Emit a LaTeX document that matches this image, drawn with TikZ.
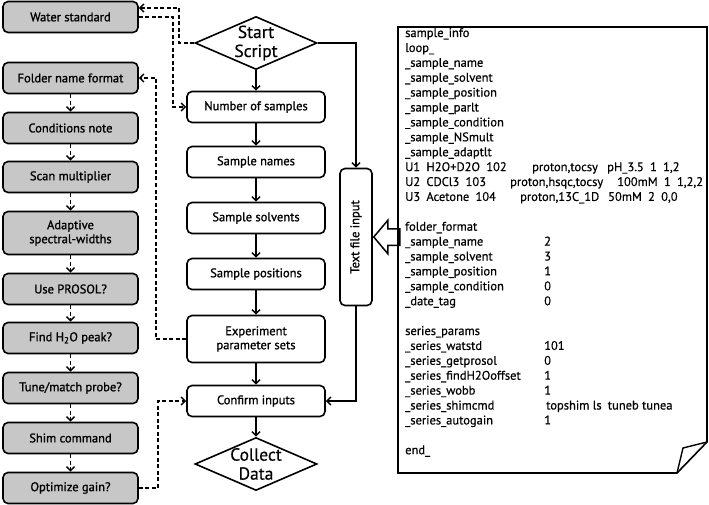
\documentclass[tikz,border=0pt]{standalone}
\usepackage{fontspec}
\setmainfont{PT Sans}
\newfontfamily\boxfont{PT Sans}[FakeBold=1.2]
\newfontfamily\listfont{PT Sans}[FakeBold=0.5]
\usetikzlibrary{shapes.geometric,shapes.arrows,arrows.meta}

\begin{document}
\begin{tikzpicture}[x=1pt,y=-1pt]
	\tikzset{box/.style = {draw, line width=1.6pt, rounded corners=5pt, minimum width=135pt, minimum height=31pt, inner sep=1pt, align=center, font=\boxfont\fontsize{12.5}{14}\selectfont}}
	\tikzset{optbox/.style = {box, fill=black!22}}
	\tikzset{stepbox/.style = {box, minimum width=138pt}}
	\tikzset{decision/.style = {diamond, draw, line width=1.6pt, minimum width=122pt, minimum height=53pt, inner sep=0pt}}
	\tikzset{bigtext/.style = {align=center, inner sep=0pt, font=\listfont\fontsize{17.5}{19}\selectfont}}
	\tikzset{edge/.style = {-{Straight Barb[length=4pt,width=8pt]}, line width=1.5pt}}
	\tikzset{optedge/.style = {edge, dash pattern=on 4pt off 2.5pt}}
	\tikzset{listline/.style = {anchor=base west, inner sep=0pt, font=\listfont\fontsize{12.5}{14}\selectfont}}
	\useasboundingbox (0,0) rectangle (709,505);
	% optional settings (left)
	\node[optbox] (water) at (70.5,17) {Water standard};
	\node[optbox] (folder) at (70.5,78) {Folder name format};
	\node[optbox] (cond) at (70.5,128) {Conditions note};
	\node[optbox] (scan) at (70.5,177) {Scan multiplier};
	\node[optbox, minimum height=43pt] (adapt) at (70.5,233) {Adaptive\\spectral-widths};
	\node[optbox] (prosol) at (70.5,289) {Use PROSOL?};
	\node[optbox] (findh2o) at (70.5,338) {Find H\textsubscript{2}O peak?};
	\node[optbox] (tune) at (70.5,388) {Tune/match probe?};
	\node[optbox] (shim) at (70.5,438) {Shim command};
	\node[optbox] (gain) at (70.5,488) {Optimize gain?};
	% main flow
	\node[decision] (start) at (256,43) {};
	\node[bigtext] (startlbl) at (start) {Start\\Script};
	\node[stepbox] (numsamp) at (256,107) {Number of samples};
	\node[stepbox] (names) at (256,162) {Sample names};
	\node[stepbox] (solvents) at (256,218) {Sample solvents};
	\node[stepbox] (positions) at (256,274) {Sample positions};
	\node[stepbox, minimum height=47pt] (expt) at (256,339) {Experiment\\parameter sets};
	\node[stepbox] (confirm) at (256,401) {Confirm inputs};
	\node[decision] (collect) at (256,464) {};
	\node[bigtext] (collectlbl) at (collect) {Collect\\Data};
	\node[box, minimum width=32pt, minimum height=137pt, inner sep=0pt] (textin) at (356,237) {\rotatebox{90}{Text file input}};
	\node[single arrow, draw, line width=1.5pt, shape border rotate=180, inner sep=7.5pt, minimum height=26pt, single arrow head extend=8.5pt, single arrow tip angle=100, anchor=tip] (fileptr) at (textin.east) {};
	% edges
	\draw[edge] (start) -- (numsamp);
	\draw[edge] (numsamp) -- (names);
	\draw[edge] (names) -- (solvents);
	\draw[edge] (solvents) -- (positions);
	\draw[edge] (positions) -- (expt);
	\draw[edge] (expt) -- (confirm);
	\draw[edge] (confirm) -- (collect);
	\draw[edge] (start.east) -| (textin);
	\draw[edge] (textin) |- (confirm);
	\foreach \a/\b in {folder/cond, cond/scan, scan/adapt, adapt/prosol, prosol/findh2o, findh2o/tune, tune/shim, shim/gain}
		\draw[optedge] (\a) -- (\b);
	\draw[optedge] (start.west) -- ++(-15,0) |- ([yshift=9pt]water.east);
	\draw[optedge] (water.east) -- ++(34,0) |- (numsamp.west);
	\draw[optedge] (expt.west) -- ++(-30,0) |- (folder.east);
	\draw[optedge] (gain.east) -- ++(19,0) |- (confirm.west);
	% input file
	\draw[line width=1.6pt, line join=miter] (398,27) -- (707,27) -- (707,442) -- (677,473) -- (398,473) -- cycle;
	\draw[line width=1.4pt, line join=miter] (677,473) -- (683,448) -- (707,442);
	\foreach \i/\txt in {0/sample\_info, 1/loop\_, 2/\_sample\_name, 3/\_sample\_solvent, 4/\_sample\_position, 5/\_sample\_parlt, 6/\_sample\_condition, 7/\_sample\_NSmult, 8/\_sample\_adaptlt, 9/U1\enspace H2O+D2O\enspace 102, 10/U2\enspace CDCl3\enspace 103, 11/U3\enspace Acetone\enspace 104, 13/folder\_format, 14/\_sample\_name, 15/\_sample\_solvent, 16/\_sample\_position, 17/\_sample\_condition, 18/\_date\_tag, 20/series\_params, 21/\_series\_watstd, 22/\_series\_getprosol, 23/\_series\_findH2Ooffset, 24/\_series\_wobb, 25/\_series\_shimcmd, 26/\_series\_autogain, 28/end\_}
		\node[listline] (line\i) at (405,37+14.9*\i) {\txt};
	\node[listline] (u1b) at (532,37+14.9*9) {proton,tocsy};
	\node[listline] (u1c) at (607,37+14.9*9) {pH\_3.5\enspace 1\enspace 1,2};
	\node[listline] (u2b) at (510,37+14.9*10) {proton,hsqc,tocsy};
	\node[listline] (u2c) at (617,37+14.9*10) {100mM\enspace 1\enspace 1,2,2};
	\node[listline] (u3b) at (520,37+14.9*11) {proton,13C\_1D};
	\node[listline] (u3c) at (608,37+14.9*11) {50mM\enspace 2\enspace 0,0};
	\foreach \i/\val in {14/2, 15/3, 16/1, 17/0, 18/0, 21/101, 22/0, 23/1, 24/1, 26/1}
		\node[listline] (val\i) at (544,37+14.9*\i) {\val};
	\node[listline] (val25) at (546,37+14.9*25) {topshim ls\enspace tuneb tunea};
\end{tikzpicture}
\end{document}
